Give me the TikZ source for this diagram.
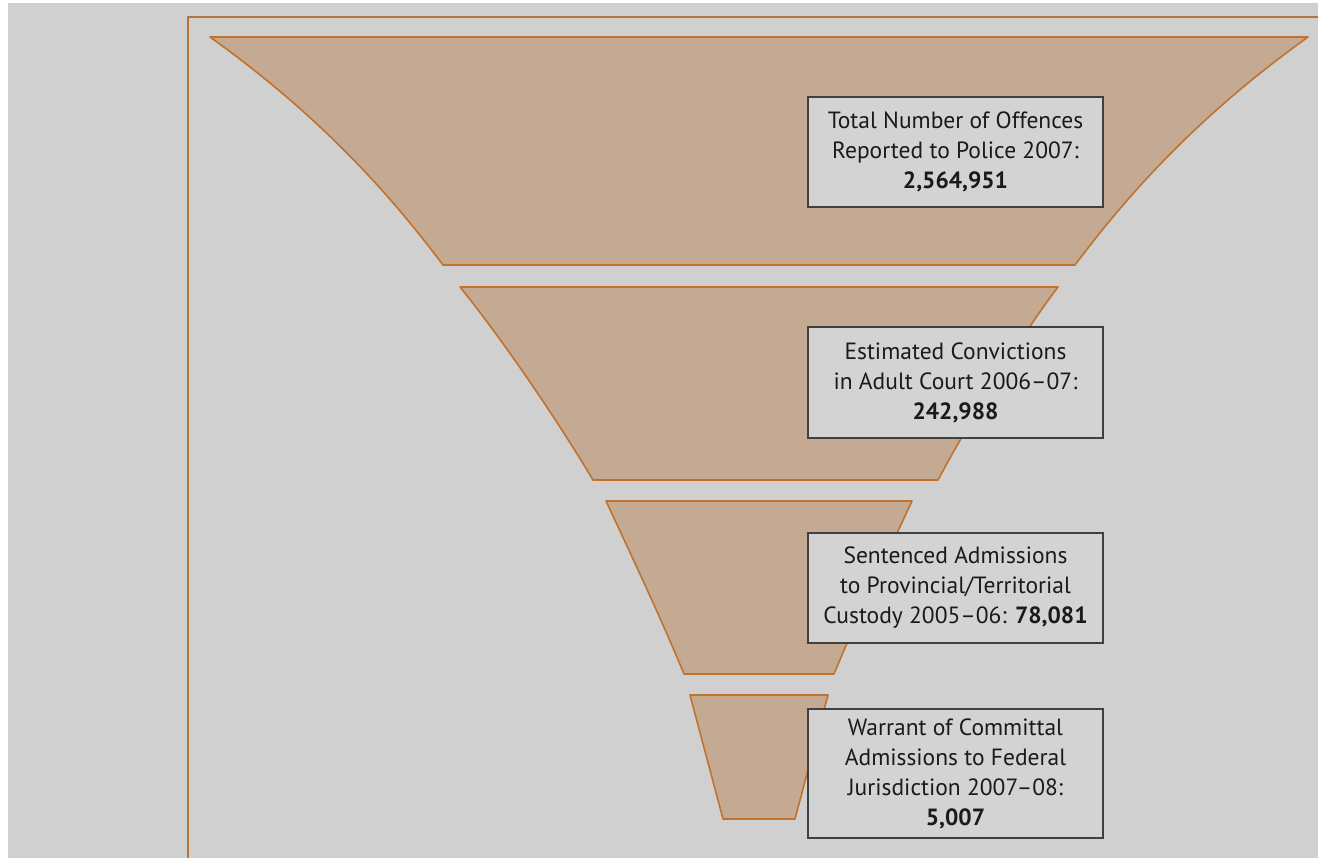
\documentclass[tikz,border=0pt]{standalone}
\usepackage{fontspec}
\setmainfont{PT Sans}
\definecolor{bggray}{HTML}{D0D0D0}
\definecolor{tanfill}{HTML}{C4AA92}
\definecolor{tanline}{HTML}{C0722E}
\definecolor{framebrown}{HTML}{B4763A}
\definecolor{boxfill}{HTML}{D3D3D3}
\definecolor{boxline}{HTML}{404040}
\definecolor{txt}{HTML}{1A1A1A}
\begin{document}
\begin{tikzpicture}[x=1pt,y=-1pt,
  funnel/.style={fill=tanfill,draw=tanline,line width=1.6pt,line join=round},
  infobox/.style={draw=boxline,fill=boxfill,line width=1.4pt,text=txt,
    align=center,inner sep=0pt,font=\fontsize{23.5}{30}\selectfont},
  framestyle/.style={draw=framebrown,line width=2pt}]
\useasboundingbox (0,0) rectangle (1318,858);
\fill[white] (0,0) rectangle (1318,858);
\fill[bggray] (8,3) rectangle (1318,858);
% frame
\coordinate (fBL) at (188,858);
\coordinate (fTL) at (188,17);
\coordinate (fTR) at (1318,17);
\draw[framestyle] (fBL) -- (fTL) -- (fTR);
% funnel level 1
\draw[funnel] (210,37) -- (1308,37) .. controls (1202,113) and (1132,189) .. (1075,265)
  -- (443,265) .. controls (386,189) and (316,113) .. (210,37) -- cycle;
% funnel level 2
\draw[funnel] (460,287) -- (1058,287) .. controls (1014,345) and (966,428) .. (938,480)
  -- (593,480) .. controls (562,428) and (507,345) .. (460,287) -- cycle;
% funnel level 3
\draw[funnel] (606,501) -- (912,501) .. controls (885,559) and (858,616) .. (834,674)
  -- (684,674) .. controls (660,616) and (633,559) .. (606,501) -- cycle;
% funnel level 4
\draw[funnel] (690,695) -- (828,695) -- (795,819) -- (723,819) -- cycle;
% boxes
\node[infobox,minimum width=295pt,minimum height=110pt] (b1) at (955.5,152)
  {Total Number of Offences\\Reported to Police 2007:\\\textbf{2,564,951}};
\node[infobox,minimum width=295pt,minimum height=111pt] (b2) at (955.5,382.5)
  {Estimated Convictions\\in Adult Court 2006--07:\\\textbf{242,988}};
\node[infobox,minimum width=295pt,minimum height=110pt] (b3) at (955.5,588)
  {Sentenced Admissions\\to Provincial/Territorial\\Custody 2005--06: \textbf{78,081}};
\node[infobox,minimum width=295pt,minimum height=129pt] (b4) at (955.5,773.5)
  {Warrant of Committal\\Admissions to Federal\\Jurisdiction 2007--08:\\\textbf{5,007}};
\end{tikzpicture}
\end{document}
